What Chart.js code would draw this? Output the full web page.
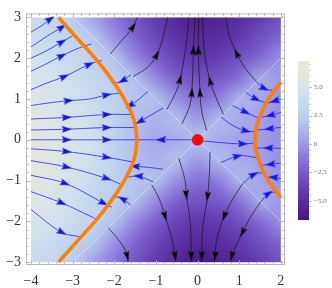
<!DOCTYPE html>
<html><head><meta charset="utf-8">
<script src="https://cdn.jsdelivr.net/npm/chart.js@4/dist/chart.umd.min.js"></script>
<style>html,body{margin:0;padding:0;background:#fff;}canvas{display:block;}</style>
</head><body>
<canvas id="c" width="332" height="288"></canvas>
<script>
// ---------------- data ----------------
const xTicks = [-4, -3, -2, -1, 0, 1, 2];
const yTicks = [-3, -2, -1, 0, 1, 2, 3];
const gridX = [-4, -3.5, -3, -2.5, -2, -1.5, -1, -0.5, 0, 0.5, 1, 1.5, 2];
const gridY = [3, 2.5, 2, 1.5, 1, 0.5, 0, -0.5, -1, -1.5, -2, -2.5, -3];
const density = [
  [3.5, 3.2, 2.5, 0.3, -1.3, -2.8, -4.2, -5.3, -6.2, -5.8, -5.0, -4.0, -3.0],
  [4.0, 3.5, 3.0, 2.2, -0.2, -2.0, -3.5, -4.6, -5.3, -5.0, -4.2, -3.0, -2.0],
  [4.5, 4.0, 3.5, 2.8, 2.0, -0.6, -2.3, -3.6, -4.3, -4.0, -3.0, -1.8, -0.3],
  [5.0, 4.5, 4.0, 3.2, 2.5, 1.8, -0.5, -2.3, -3.0, -2.6, -1.5, 0.8, 0.0],
  [5.5, 5.0, 4.5, 3.7, 2.8, 2.0, 1.8, -0.3, -1.6, -1.0, 1.3, 0.6, -0.2],
  [6.0, 5.5, 4.8, 4.0, 3.0, 1.8, 1.0, 1.8, 0.0, 1.6, 0.8, 0.3, -0.3],
  [6.5, 5.8, 5.0, 4.2, 3.0, 1.6, 0.6, 0.8, 2.0, 0.8, 0.4, 0.2, -0.3],
  [6.5, 5.8, 5.0, 4.0, 3.0, 1.8, 1.0, 1.8, 0.0, 1.6, 0.8, 0.3, -0.3],
  [6.2, 5.5, 4.5, 3.7, 2.8, 2.0, 1.8, -0.3, -1.6, -1.0, 1.3, 0.6, -0.2],
  [5.6, 5.0, 4.2, 3.2, 2.5, 1.8, -0.5, -2.3, -3.0, -2.6, -1.5, 0.8, 0.0],
  [5.0, 4.5, 3.8, 2.8, 2.0, -0.6, -2.3, -3.6, -4.3, -4.0, -3.0, -1.8, -0.3],
  [4.2, 3.7, 3.0, 2.2, -0.2, -2.0, -3.5, -4.6, -5.3, -5.0, -4.2, -3.0, -2.0],
  [3.5, 3.2, 2.5, 0.3, -1.3, -2.8, -4.2, -5.3, -6.5, -6.0, -5.0, -4.0, -3.0]
];
const cbRange = [-6.7, 7.3];
const cbTicks = [5, 2.5, 0, -2.5, -5];
const cbLabels = ['5.0', '2.5', '0', '\u22122.5', '\u22125.0'];

const leftCurve = [[-3.34,3],[-3.12,2.75],[-2.9,2.5],[-2.68,2.25],[-2.46,2],[-2.26,1.75],[-2.08,1.5],[-1.91,1.25],[-1.76,1],[-1.63,0.75],[-1.53,0.5],[-1.48,0.25],[-1.46,0],[-1.48,-0.25],[-1.53,-0.5],[-1.63,-0.75],[-1.76,-1],[-1.91,-1.25],[-2.08,-1.5],[-2.26,-1.75],[-2.46,-2],[-2.68,-2.25],[-2.9,-2.5],[-3.12,-2.75],[-3.34,-3]];
const rightCurve = [[2,1.42],[1.84,1.2],[1.7,1],[1.57,0.75],[1.47,0.5],[1.4,0.25],[1.38,0],[1.4,-0.25],[1.47,-0.5],[1.57,-0.75],[1.7,-1],[1.84,-1.2],[2,-1.42]];
const diagUp = [[-3,-3],[2,2]];
const diagDown = [[-3,3],[2,-2]];
const equilibrium = [[0,0]];

const blueStreams = [
  [[-4,2.64],[-3.7,2.83],[-3.54,2.96],[-3.45,3.0]],
  [[-4,2.28],[-3.6,2.55],[-3.26,2.76],[-3.15,2.85]],
  [[-4,2.0],[-3.6,2.2],[-3.26,2.4],[-2.95,2.58]],
  [[-4,1.68],[-3.6,1.88],[-3.26,2.06],[-2.85,2.25],[-2.55,2.35]],
  [[-4,1.23],[-3.6,1.4],[-3.2,1.55],[-2.6,1.85],[-2.3,1.95]],
  [[-4,0.84],[-3.6,0.9],[-3.1,0.96],[-2.6,1.0],[-2.18,1.1],[-1.85,1.15]],
  [[-4,0.51],[-3.14,0.55],[-2.18,0.62],[-1.6,0.62]],
  [[-4,0.24],[-3.14,0.26],[-2.18,0.3],[-1.5,0.3]],
  [[-4,0.0],[-3.14,0.0],[-2.18,0.0],[-1.46,0.0]],
  [[-4,-0.22],[-3.14,-0.29],[-2.18,-0.43],[-1.52,-0.55]],
  [[-4,-0.51],[-3.14,-0.67],[-2.18,-0.95],[-1.78,-1.12]],
  [[-4,-0.87],[-3.18,-1.07],[-2.26,-1.55],[-2.06,-1.65]],
  [[-4,-1.27],[-3.26,-1.55],[-2.58,-1.87],[-2.42,-1.95]],
  [[-4,-1.71],[-3.26,-2.27],[-2.8,-2.38]],
  [[-0.05,0],[-0.88,0],[-1.46,0]],
  [[-0.83,0.78],[-1.1,0.62],[-1.38,0.45],[-1.52,0.38]],
  [[-1.19,1.19],[-1.4,1.0],[-1.62,0.84],[-1.7,0.8]],
  [[-1.6,1.6],[-1.8,1.45],[-2.0,1.38]],
  [[-0.83,-0.72],[-1.15,-0.68],[-1.5,-0.65],[-1.6,-0.65]],
  [[-1.07,-1.03],[-1.25,-0.95],[-1.42,-0.89],[-1.72,-0.92]],
  [[-1.6,-1.6],[-1.8,-1.45],[-2.0,-1.38]],
  [[2,1.0],[1.85,0.95],[1.68,0.9]],
  [[2,0.67],[1.75,0.6],[1.52,0.55]],
  [[2,0.31],[1.72,0.27],[1.42,0.24]],
  [[2,-0.21],[1.7,-0.2],[1.4,-0.2]],
  [[2,-0.57],[1.75,-0.6],[1.52,-0.63]],
  [[2,-0.95],[1.82,-0.92],[1.68,-0.92]],
  [[1.42,1.42],[1.6,1.26],[1.86,1.2]],
  [[1.16,1.16],[1.4,1.0],[1.66,0.9]],
  [[0.84,0.84],[1.15,0.68],[1.47,0.53]],
  [[0.56,0.56],[0.85,0.35],[1.16,0.22],[1.4,0.2]],
  [[0.15,-0.03],[0.7,-0.08],[1.09,-0.1],[1.38,-0.08]],
  [[0.56,-0.56],[0.96,-0.4],[1.2,-0.4],[1.45,-0.45]],
  [[1.08,-1.08],[1.35,-0.85],[1.6,-0.8]],
  [[1.52,-1.52],[1.7,-1.32],[1.9,-1.27]]
];
const blueArrows = [
  [0,2],[1,2],[2,2],[3,2],[4,2],[4,3],[5,2],[5,4],[6,1],[6,2],[7,1],[7,2],[8,1],[8,2],
  [9,1],[9,2],[10,1],[10,2],[11,1],[11,2],[12,1],[13,1],[14,1],[15,2],[16,2],[17,1],
  [18,2],[19,2],[20,1],[21,1],[22,1],[23,1],[24,1],[25,1],[26,1],[27,1],[28,1],[29,1],
  [30,2],[31,2],[32,1],[33,1],[34,1]
];
const blackStreams = [
  [[-2.1,2.1],[-1.85,2.4],[-1.55,2.77],[-1.45,3.0]],
  [[-1.55,1.55],[-1.2,1.78],[-0.98,2.08],[-0.82,2.55],[-0.72,3.0]],
  [[-0.74,0.74],[-0.55,1.1],[-0.42,1.48],[-0.28,2.3],[-0.21,3.0]],
  [[-0.38,0.38],[-0.2,0.8],[-0.14,1.16],[-0.1,2.2],[-0.06,3.0]],
  [[0.22,0.22],[0.1,0.7],[0.06,1.16],[0.02,2.2],[0.03,3.0]],
  [[0.62,0.62],[0.42,1.1],[0.3,1.44],[0.16,2.2],[0.12,3.0]],
  [[1.42,1.42],[1.15,1.75],[0.94,2.12],[0.75,2.6],[0.68,3.0]],
  [[-2.15,-2.15],[-1.9,-2.45],[-1.75,-2.68],[-1.69,-2.85],[-1.67,-3.0]],
  [[-1.1,-1.1],[-0.92,-1.45],[-0.78,-1.87],[-0.6,-2.5],[-0.54,-2.85],[-0.52,-3.0]],
  [[-0.45,-0.45],[-0.3,-1.0],[-0.27,-1.35],[-0.18,-2.0],[-0.15,-2.85],[-0.15,-3.0]],
  [[0.3,-0.3],[0.28,-0.9],[0.24,-1.39],[0.12,-2.2],[0.1,-2.85],[0.1,-3.0]],
  [[1.08,-1.08],[0.85,-1.45],[0.64,-1.87],[0.46,-2.45],[0.42,-2.85],[0.4,-3.0]],
  [[1.52,-1.52],[1.3,-1.85],[1.08,-2.27],[0.88,-2.7],[0.82,-2.85],[0.8,-3.0]]
];
const blackArrows = [
  [0,2],[1,2],[2,2],[3,2],[3,3],[4,2],[4,3],[5,2],[6,2],
  [7,3],[8,2],[8,4],[9,2],[9,4],[10,2],[10,4],[11,2],[11,4],[12,2],[12,4]
];

// ---------------- styling helpers ----------------
const cmapStops = [[0,[72,20,130]],[0.2,[100,62,178]],[0.4,[140,122,222]],[0.5,[163,160,232]],[0.65,[186,205,238]],[0.8,[212,226,236]],[1,[238,232,212]]];
function cmap(v){
  let t = (v - cbRange[0]) / (cbRange[1] - cbRange[0]);
  t = Math.max(0, Math.min(1, t));
  for (let i = 1; i < cmapStops.length; i++) {
    const [t1, c1] = cmapStops[i], [t0, c0] = cmapStops[i-1];
    if (t <= t1) { const f = (t - t0) / (t1 - t0); return c0.map((c, k) => Math.round(c + (c1[k] - c) * f)); }
  }
  return cmapStops[cmapStops.length-1][1];
}
const fmt = v => (v < 0 ? '\u2212' + Math.abs(v) : String(v));
const pts = arr => arr.map(p => ({x: p[0], y: p[1]}));

function makeArrow(color, w, h){
  const c = document.createElement('canvas'); c.width = w; c.height = h;
  const g = c.getContext('2d'); g.fillStyle = color;
  g.beginPath(); g.moveTo(w/2, 0); g.lineTo(w, h); g.lineTo(w/2, h*0.82); g.lineTo(0, h); g.closePath(); g.fill();
  return c;
}
const blueHead = makeArrow('#1414e6', 7, 10);
const blackHead = makeArrow('#000000', 6, 10);

function arrowRotation(streams, arrows){
  return ctx => {
    const a = arrows[ctx.dataIndex]; if (!a) return 0;
    const s = streams[a[0]], i = a[1];
    const p = s[Math.max(0, i-1)], q = s[Math.min(s.length-1, i+1)];
    const X = ctx.chart.scales.x, Y = ctx.chart.scales.y;
    const dx = X.getPixelForValue(q[0]) - X.getPixelForValue(p[0]);
    const dy = Y.getPixelForValue(q[1]) - Y.getPixelForValue(p[1]);
    return Math.atan2(dy, dx) * 180 / Math.PI + 90;
  };
}

// ---------------- datasets ----------------
const datasets = [];
datasets.push({data: pts(equilibrium), pointRadius: 5.8, pointBackgroundColor: '#f00a14', pointBorderWidth: 0, showLine: false, order: 0});
[leftCurve, rightCurve].forEach(c => datasets.push({data: pts(c), showLine: true, borderColor: '#ff8000', borderWidth: 3.6, pointRadius: 0, tension: 0.3, borderCapStyle: 'butt', order: 1}));
datasets.push({data: blueArrows.map(a => ({x: blueStreams[a[0]][a[1]][0], y: blueStreams[a[0]][a[1]][1]})), showLine: false, pointStyle: blueHead, pointRadius: 3, rotation: arrowRotation(blueStreams, blueArrows), order: 2});
datasets.push({data: blackArrows.map(a => ({x: blackStreams[a[0]][a[1]][0], y: blackStreams[a[0]][a[1]][1]})), showLine: false, pointStyle: blackHead, pointRadius: 3, rotation: arrowRotation(blackStreams, blackArrows), order: 2});
blueStreams.forEach(s => datasets.push({data: pts(s), showLine: true, borderColor: 'rgba(30,30,235,0.85)', borderWidth: 0.9, pointRadius: 0, tension: 0.4, order: 3}));
blackStreams.forEach(s => datasets.push({data: pts(s), showLine: true, borderColor: 'rgba(20,20,20,0.85)', borderWidth: 0.8, pointRadius: 0, tension: 0.4, order: 3}));
[diagUp, diagDown].forEach(d => datasets.push({data: pts(d), showLine: true, borderColor: 'rgba(255,255,255,0.8)', borderWidth: 0.8, borderDash: [2, 1], pointRadius: 0, order: 4}));

// ---------------- plugins ----------------
const densityPlugin = {
  id: 'density',
  beforeDatasetsDraw(chart){
    const {ctx} = chart, X = chart.scales.x, Y = chart.scales.y;
    const nx = gridX.length, ny = gridY.length;
    const off = document.createElement('canvas'); off.width = nx; off.height = ny;
    const o = off.getContext('2d'); const img = o.createImageData(nx, ny);
    for (let r = 0; r < ny; r++) for (let c = 0; c < nx; c++) {
      const col = cmap(density[r][c]); const k = (r*nx + c)*4;
      img.data[k] = col[0]; img.data[k+1] = col[1]; img.data[k+2] = col[2]; img.data[k+3] = 255;
    }
    o.putImageData(img, 0, 0);
    const hx = (gridX[1]-gridX[0])/2, hy = (gridY[0]-gridY[1])/2;
    const x0 = X.getPixelForValue(gridX[0]-hx), x1 = X.getPixelForValue(gridX[nx-1]+hx);
    const y0 = Y.getPixelForValue(gridY[0]+hy), y1 = Y.getPixelForValue(gridY[ny-1]-hy);
    const cx0 = X.getPixelForValue(gridX[0]), cx1 = X.getPixelForValue(gridX[nx-1]);
    const cy0 = Y.getPixelForValue(gridY[0]), cy1 = Y.getPixelForValue(gridY[ny-1]);
    ctx.save();
    ctx.beginPath(); ctx.rect(cx0, cy0, cx1-cx0, cy1-cy0); ctx.clip();
    ctx.imageSmoothingEnabled = true; ctx.imageSmoothingQuality = 'high';
    ctx.drawImage(off, x0, y0, x1-x0, y1-y0);
    ctx.restore();
  }
};
const framePlugin = {
  id: 'frame',
  afterDatasetsDraw(chart){
    const {ctx, chartArea: a} = chart, X = chart.scales.x, Y = chart.scales.y;
    ctx.save();
    ctx.strokeStyle = '#b8b8b8'; ctx.lineWidth = 1;
    ctx.strokeRect(a.left+0.5, a.top+0.5, a.right-a.left-1, a.bottom-a.top-1);
    ctx.beginPath();
    for (let i = 0; i <= 30; i++) {
      const v = xTicks[0] + i*0.2; const major = i % 5 === 0; const L = major ? 4.5 : 2.5;
      const px = Math.round(X.getPixelForValue(v)) + 0.5;
      ctx.moveTo(px, a.bottom); ctx.lineTo(px, a.bottom - L);
      ctx.moveTo(px, a.top); ctx.lineTo(px, a.top + L);
    }
    for (let i = 0; i <= 30; i++) {
      const v = yTicks[0] + i*0.2; const major = i % 5 === 0; const L = major ? 4.5 : 2.5;
      const py = Math.round(Y.getPixelForValue(v)) + 0.5;
      ctx.moveTo(a.left, py); ctx.lineTo(a.left + L, py);
      ctx.moveTo(a.right, py); ctx.lineTo(a.right - L, py);
    }
    ctx.stroke();
    // colour bar
    const bx = 298, bw = 11, by0 = 61, by1 = 220;
    const g = ctx.createLinearGradient(0, by1, 0, by0);
    cmapStops.forEach(([t, c]) => g.addColorStop(t, `rgb(${c[0]},${c[1]},${c[2]})`));
    ctx.fillStyle = g; ctx.fillRect(bx, by0, bw, by1-by0);
    const vy = v => by1 - (v - cbRange[0]) / (cbRange[1]-cbRange[0]) * (by1-by0);
    ctx.strokeStyle = '#c4c4c4'; ctx.beginPath();
    for (let v = -6.5; v <= 7.01; v += 0.5) {
      const major = cbTicks.includes(v);
      const py = Math.round(vy(v)) + 0.5;
      ctx.moveTo(bx+bw, py); ctx.lineTo(bx+bw + (major ? 3 : 1.5), py);
    }
    ctx.stroke();
    ctx.fillStyle = '#707070'; ctx.font = '7px "Liberation Serif"'; ctx.textAlign = 'left'; ctx.textBaseline = 'middle';
    cbTicks.forEach((v, i) => ctx.fillText(cbLabels[i], bx+bw+5, vy(v)));
    ctx.restore();
  }
};

new Chart(document.getElementById('c'), {
  type: 'scatter',
  data: {datasets},
  plugins: [densityPlugin, framePlugin],
  options: {
    responsive: false, animation: false, events: [],
    layout: {padding: {top: 9, right: 47, left: 0, bottom: 0}},
    plugins: {legend: {display: false}, tooltip: {enabled: false}},
    scales: {
      x: {type: 'linear', min: -4.12, max: 2.1,
          afterBuildTicks: s => { s.ticks = xTicks.map(v => ({value: v})); },
          afterFit: s => { s.height = 23; },
          ticks: {callback: v => fmt(v), font: {family: 'Liberation Serif', size: 14}, color: '#333', padding: 8, maxRotation: 0, autoSkip: false},
          grid: {display: false, drawTicks: false}, border: {display: false}},
      y: {type: 'linear', min: -3.07, max: 3.1,
          afterBuildTicks: s => { s.ticks = yTicks.map(v => ({value: v})); },
          afterFit: s => { s.width = 26; },
          ticks: {callback: v => fmt(v), font: {family: 'Liberation Serif', size: 14}, color: '#333', padding: 5, autoSkip: false},
          grid: {display: false, drawTicks: false}, border: {display: false}}
    }
  }
});
</script>
</body></html>
